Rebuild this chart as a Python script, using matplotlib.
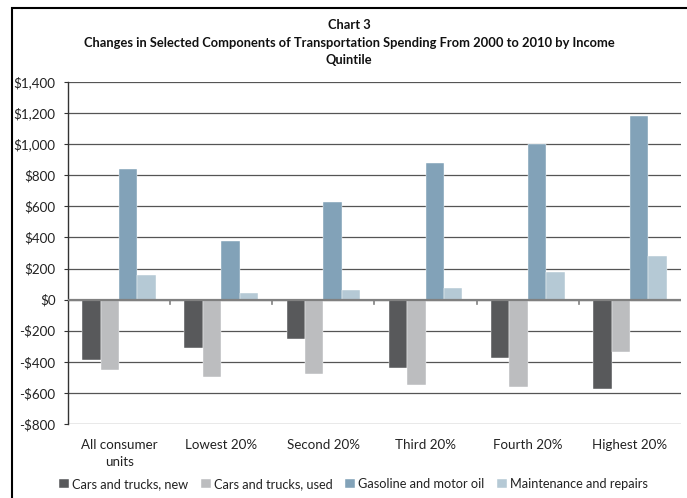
import matplotlib
matplotlib.use("Agg")
import matplotlib.pyplot as plt
import numpy as np
from matplotlib.patches import Rectangle
from matplotlib.ticker import FuncFormatter

plt.rcParams['font.family'] = ['Lato', 'DejaVu Sans']

categories = ["All consumer\nunits", "Lowest 20%", "Second 20%", "Third 20%", "Fourth 20%", "Highest 20%"]
series_names = ["Cars and trucks, new", "Cars and trucks, used", "Gasoline and motor oil", "Maintenance and repairs"]
cars_new = [-387, -312, -256, -441, -376, -574]
cars_used = [-454, -497, -477, -550, -561, -340]
gasoline = [838, 375, 630, 881, 1003, 1184]
maintenance = [158, 45, 60, 73, 176, 281]
colors = ["#58595b", "#bcbdbf", "#82a2b8", "#b5c9d5"]

W, H = 687, 498
fig = plt.figure(figsize=(W / 100, H / 100), dpi=100)
ax = fig.add_axes([68 / W, 1 - 424 / H, (681 - 68) / W, (424 - 82) / H])

x = np.arange(len(categories))
bw = 0.18
data = [cars_new, cars_used, gasoline, maintenance]
for i, (vals, c, name) in enumerate(zip(data, colors, series_names)):
    ax.bar(x + (i - 1.5) * bw, vals, width=bw, color=c, label=name, zorder=3,
           edgecolor='white', linewidth=0.3)

ax.set_xlim(-0.5, len(categories) - 0.5)
ax.set_ylim(-800, 1400)
ax.set_yticks(np.arange(-800, 1401, 200))
ax.yaxis.set_major_formatter(FuncFormatter(lambda v, p: ("-$" if v < 0 else "$") + f"{abs(int(v)):,}"))
ax.grid(axis='y', color='#555555', linewidth=0.9, zorder=0)
ax.set_axisbelow(True)
for s in ['top', 'right', 'bottom']:
    ax.spines[s].set_visible(False)
ax.spines['left'].set_color('#333333')
ax.spines['left'].set_linewidth(1.0)
ax.axhline(0, color='#808080', linewidth=1.6, zorder=4)

# x tick marks at category boundaries on the zero line
for b in np.arange(0.5, len(categories) - 0.5, 1.0):
    ax.plot([b, b], [0, -25], color='#808080', linewidth=1.2, zorder=4, clip_on=False)

ax.set_xticks(x)
ax.set_xticklabels(categories, fontsize=9.6, color='#222222', linespacing=1.45)
ax.tick_params(axis='x', length=0, pad=11)
ax.tick_params(axis='y', length=3, direction='out', color='#333333', labelsize=9.6, labelcolor='#222222', pad=6)

fig.text(349 / W, 1 - 25 / H, "Chart 3", ha='center', va='center', fontsize=9.3, fontweight='bold', color='#111111')
fig.text(349 / W, 1 - 43 / H, "Changes in Selected Components of Transportation Spending From 2000 to 2010 by Income",
         ha='center', va='center', fontsize=9.3, fontweight='bold', color='#111111')
fig.text(349 / W, 1 - 60 / H, "Quintile", ha='center', va='center', fontsize=9.3, fontweight='bold', color='#111111')

leg = fig.legend(loc='center', bbox_to_anchor=(353.5 / W, 1 - 484 / H), ncol=4, frameon=False,
                 fontsize=9.2, handlelength=0.75, handleheight=0.75, handletextpad=0.25, columnspacing=1.0)
for t in leg.get_texts():
    t.set_color('#222222')

fig.patches.append(Rectangle((12 / W, -0.05), 1.1, 1 - 8 / H + 0.05, transform=fig.transFigure,
                             fill=False, edgecolor='black', linewidth=1.5))

fig.savefig("out.png", dpi=100)
